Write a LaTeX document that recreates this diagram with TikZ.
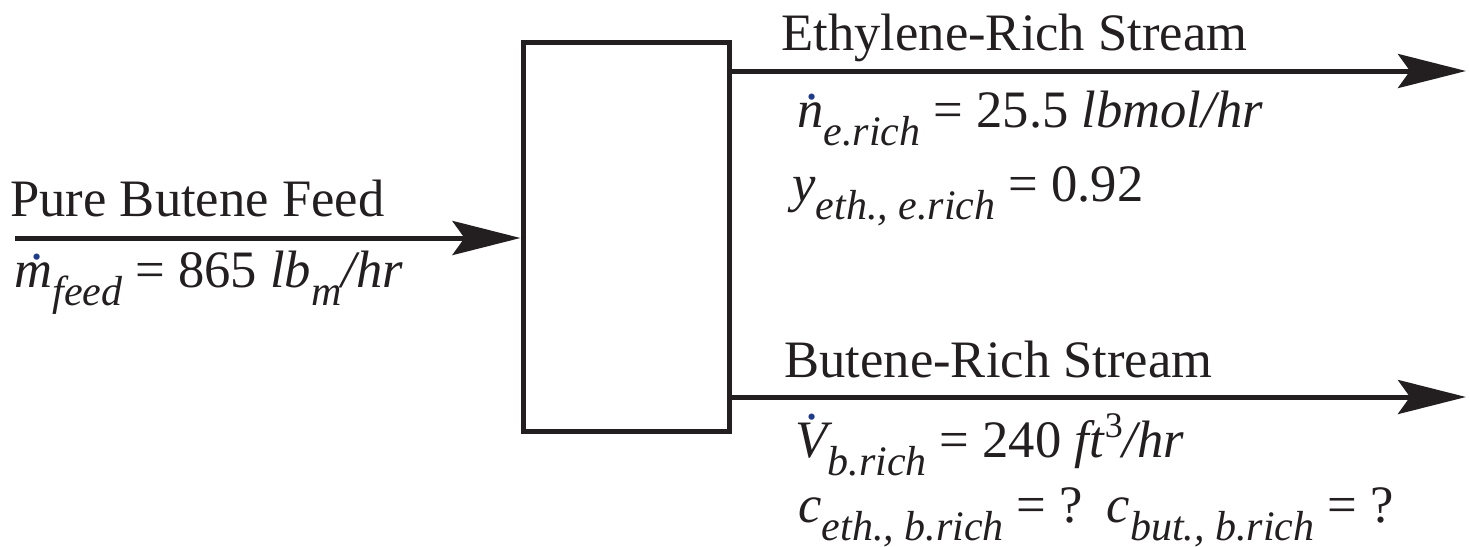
\documentclass[tikz,border=0pt]{standalone}
\usepackage{fontspec}
\setmainfont{Liberation Serif}
\usetikzlibrary{arrows.meta}
\definecolor{ink}{HTML}{231F20}
\definecolor{dotblue}{HTML}{1F3C88}
\newcommand\sbs[1]{\raisebox{-9pt}{\fontsize{21}{21}\selectfont\itshape #1}}
\newcommand\sps[1]{\raisebox{0.38em}{\fontsize{18}{18}\selectfont #1}}
\newcommand\dotl[2]{{\setbox0\hbox{\itshape #1}\rlap{\hbox to\wd0{\hss\hspace{#2}\raisebox{\dimexpr\ht0+0.06em}{\color{dotblue}.}\hss}}\box0}}
\tikzset{
  lbl/.style={anchor=base west, inner sep=0pt, text=ink, font=\fontsize{26.3}{27}\selectfont},
  flow/.style={draw=ink, line width=2.5pt, -{Stealth[length=34pt,width=17pt,inset=6pt]}},
  unit/.style={draw=ink, line width=2.5pt, fill=white, minimum width=103pt, minimum height=194.25pt, inner sep=0pt}
}
\begin{document}
\begin{tikzpicture}[x=0.5pt,y=-0.5pt]
\useasboundingbox (0,0) rectangle (1470,546);
\node[unit] (sep) at (626,236.75) {};
\coordinate (feedin) at (15,238);
\coordinate (topout) at (1466,71);
\coordinate (botout) at (1466,397);
\draw[flow] (feedin) -- (sep.west |- feedin);
\draw[flow] (sep.east |- topout) -- (topout);
\draw[flow] (sep.east |- botout) -- (botout);
\node[lbl] (feedname) at (10,216) {Pure Butene Feed};
\node[lbl] (feedm) at (14,287) {\dotl{m}{0.14em}\sbs{feed} = 865 \textit{lb}\sbs{m}\textit{/hr}};
\node[lbl] (ename) at (781,50) {Ethylene-Rich Stream};
\node[lbl] (en) at (797,127) {\dotl{n}{0.06em}\sbs{e.rich} = 25.5 \textit{lbmol/hr}};
\node[lbl] (ey) at (792,201) {\textit{y}\sbs{eth., e.rich} = 0.92};
\node[lbl] (bname) at (784,377) {Butene-Rich Stream};
\node[lbl] (bv) at (795,457) {\dotl{V}{0.04em}\sbs{b.rich} = 240 \textit{ft}\sps{3}\textit{/hr}};
\node[lbl] (bc) at (798,522) {\textit{c}\sbs{eth., b.rich} = ?\hspace{0.45em}\textit{c}\sbs{but., b.rich} = ?};
\end{tikzpicture}
\end{document}
